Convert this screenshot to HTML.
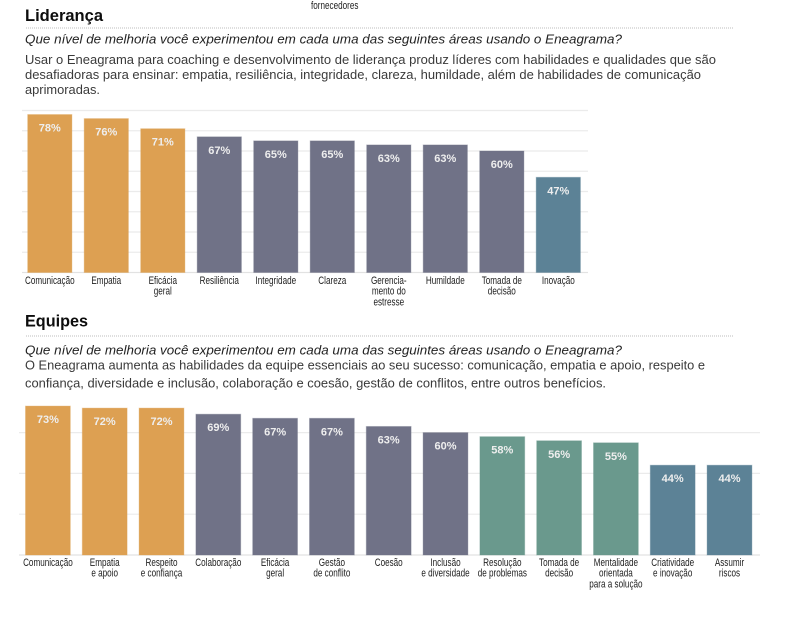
<!DOCTYPE html>
<html lang="pt-BR">
<head>
<meta charset="utf-8">
<title>Liderança e Equipes</title>
<style>
html,body{margin:0;padding:0;background:#fff;}
svg{display:block;font-family:"Liberation Sans",sans-serif;}
.h{font-size:17px;font-weight:bold;fill:#0d0d0d;}
.q{font-size:13px;font-style:italic;fill:#222;}
.b{font-size:13px;fill:#3a3a3a;}
.dots{stroke:#bdbdbd;stroke-width:1;stroke-dasharray:1 1;}
</style>
</head>
<body>
<svg id="page" xmlns="http://www.w3.org/2000/svg" width="794" height="627" viewBox="0 0 794 627">
  <text transform="translate(311,9) scale(0.74,1)" font-size="11" fill="#222">fornecedores</text>

  <text class="h" x="25" y="21" textLength="78" lengthAdjust="spacingAndGlyphs">Liderança</text>
  <line class="dots" x1="26" y1="28" x2="734" y2="28"/>
  <text class="q" x="25" y="43.5" textLength="597" lengthAdjust="spacingAndGlyphs">Que nível de melhoria você experimentou em cada uma das seguintes áreas usando o Eneagrama?</text>
  <text class="b" x="25" y="64" textLength="691" lengthAdjust="spacingAndGlyphs">Usar o Eneagrama para coaching e desenvolvimento de liderança produz líderes com habilidades e qualidades que são</text>
  <text class="b" x="25" y="79" textLength="676" lengthAdjust="spacingAndGlyphs">desafiadoras para ensinar: empatia, resiliência, integridade, clareza, humildade, além de habilidades de comunicação</text>
  <text class="b" x="25" y="94" textLength="75" lengthAdjust="spacingAndGlyphs">aprimoradas.</text>
  <g id="leadership-chart"></g>

  <text class="h" x="25" y="326.7" textLength="63" lengthAdjust="spacingAndGlyphs">Equipes</text>
  <line class="dots" x1="26" y1="336" x2="734" y2="336"/>
  <text class="q" x="25" y="354.3" textLength="597" lengthAdjust="spacingAndGlyphs">Que nível de melhoria você experimentou em cada uma das seguintes áreas usando o Eneagrama?</text>
  <text class="b" x="25" y="369.3" textLength="680" lengthAdjust="spacingAndGlyphs">O Eneagrama aumenta as habilidades da equipe essenciais ao seu sucesso: comunicação, empatia e apoio, respeito e</text>
  <text class="b" x="25" y="387.3" textLength="581" lengthAdjust="spacingAndGlyphs">confiança, diversidade e inclusão, colaboração e coesão, gestão de conflitos, entre outros benefícios.</text>
  <g id="teams-chart"></g>
</svg>

<script>
const leadershipCategories = ["Comunicação","Empatia","Eficácia\ngeral","Resiliência","Integridade","Clareza","Gerencia-\nmento do\nestresse","Humildade","Tomada de\ndecisão","Inovação"];
const leadershipValues = [78,76,71,67,65,65,63,63,60,47];
const leadershipGroups = ["top","top","top","mid","mid","mid","mid","mid","mid","low"];
const leadershipTicks = [0,10,20,30,40,50,60,70,80];

const teamCategories = ["Comunicação","Empatia\ne apoio","Respeito\ne confiança","Colaboração","Eficácia\ngeral","Gestão\nde conflito","Coesão","Inclusão\ne diversidade","Resolução\nde problemas","Tomada de\ndecisão","Mentalidade\norientada\npara a solução","Criatividade\ne inovação","Assumir\nriscos"];
const teamValues = [73,72,72,69,67,67,63,60,58,56,55,44,44];
const teamGroups = ["top","top","top","mid","mid","mid","mid","mid","soft","soft","soft","low","low"];
const teamTicks = [0,20,40,60];

const groupFill = {top:"#DDA052", mid:"#707287", soft:"#6A998D", low:"#5C8296"};
const SVGNS = "http://www.w3.org/2000/svg";

function node(parent, tag, attrs){
  const el = document.createElementNS(SVGNS, tag);
  for (const k in attrs) el.setAttribute(k, attrs[k]);
  parent.appendChild(el);
  return el;
}

function drawChart(rootId, cats, vals, groups, ticks, frame){
  const root = document.getElementById(rootId);
  const yScale = v => frame.base - v * frame.perUnit;
  const xScale = i => frame.left + i * frame.step;

  ticks.forEach(function(t){
    const line = node(root, "line", {x1:frame.gridL, x2:frame.gridR, y1:yScale(t), y2:yScale(t), stroke:t===0?"#e2e2e2":"#ebebeb", "stroke-width":1.2});
    
    
  });

  vals.forEach(function(v, i){
    const x = xScale(i);
    const cx = x + frame.width / 2;
    const top = yScale(v);
    const bar = node(root, "rect", {x:x, y:top, width:frame.width, height:frame.base - top, fill:groupFill[groups[i]], stroke:groupFill[groups[i]], "stroke-opacity":0.35, "stroke-width":1});
    
    

    const valueLabel = node(root, "text", {x:cx, y:top + 17, "text-anchor":"middle", "font-size":11, "font-weight":"bold", fill:"#eeeeee"});
    
    
    valueLabel.textContent = v + "%";

    cats[i].split("\n").forEach(function(part, j){
      const catLabel = node(root, "text", {transform:"translate(" + cx + "," + (frame.labelY + j * 10.7) + ") scale(0.74,1)", "text-anchor":"middle", "font-size":11, fill:"#222"});
      
      
      catLabel.textContent = part;
    });
  });
}

drawChart("leadership-chart", leadershipCategories, leadershipValues, leadershipGroups, leadershipTicks,
  {base:272.5, perUnit:2.025, left:27.7, step:56.5, width:44.2, gridL:22, gridR:588, labelY:284});
drawChart("teams-chart", teamCategories, teamValues, teamGroups, teamTicks,
  {base:555, perUnit:2.04, left:25.5, step:56.8, width:44.8, gridL:19, gridR:760, labelY:566});
</script>
</body>
</html>
